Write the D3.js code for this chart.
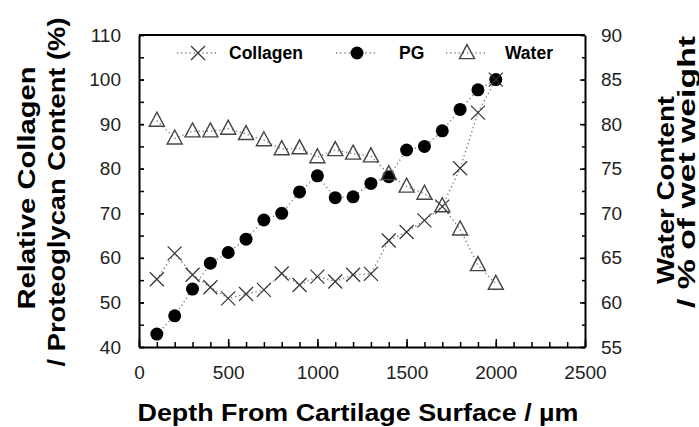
<!DOCTYPE html>
<html><head><meta charset="utf-8">
<script src="https://cdn.jsdelivr.net/npm/d3@7"></script>
<style>
body{margin:0;background:#fff;}
svg{display:block;font-family:"Liberation Sans",Arial,sans-serif;}
</style></head>
<body><svg id="c" width="699" height="427"></svg>
<script>
const depth = [100,200,300,400,500,600,700,800,900,1000,1100,1200,1300,1400,1500,1600,1700,1800,1900,2000];
const collagen = [55.2,61.0,56.2,53.4,50.9,51.9,52.8,56.5,53.9,55.8,54.7,56.2,56.4,63.9,65.8,68.4,71.5,80.1,92.6,100];
const pg = [42.9,47.0,53.0,58.8,61.2,64.2,68.5,70.0,74.8,78.4,73.5,73.7,76.7,78.2,84.2,85.0,88.5,93.3,97.7,100];
const water = [80.4,78.4,79.2,79.2,79.5,78.9,78.2,77.2,77.3,76.3,77.1,76.7,76.4,74.4,73.0,72.2,70.8,68.2,64.2,62.1];
const xTicks = [0,500,1000,1500,2000,2500];
const yLeftTicks = [40,50,60,70,80,90,100,110];
const yRightTicks = [55,60,65,70,75,80,85,90];
const legendNames = ["Collagen","PG","Water"];

const svg = d3.select("#c");
const L=139, R=585, T=35, B=347;
const x = d3.scaleLinear().domain([0,2500]).range([L,R]);
const yL = d3.scaleLinear().domain([40,110]).range([B,T]);
const yR = d3.scaleLinear().domain([55,90]).range([B,T]);
const fmt = d3.format("d");

function styleAxis(g, fs){
  g.select(".domain").attr("stroke","#000").attr("stroke-width",2);
  g.selectAll(".tick line").attr("stroke","#000").attr("stroke-width",1.5);
  g.selectAll(".tick text").attr("font-size",fs).attr("fill","#222");
}
function minorStyle(g){ g.select(".domain").remove(); g.selectAll("line").attr("stroke","#000").attr("stroke-width",1.5); }
// minor ticks
svg.append("g").attr("transform",`translate(0,${B})`)
  .call(d3.axisBottom(x).tickValues(d3.range(0,2501,100)).tickSize(-5).tickFormat("")).call(minorStyle);
svg.append("g").attr("transform",`translate(${L},0)`)
  .call(d3.axisLeft(yL).tickValues(d3.range(40,111,5)).tickSize(-5).tickFormat("")).call(minorStyle);
svg.append("g").attr("transform",`translate(${R},0)`)
  .call(d3.axisRight(yR).tickValues(d3.range(55,90.1,2.5)).tickSize(-3).tickFormat("")).call(minorStyle);
// major
svg.append("g").attr("transform",`translate(0,${B})`)
  .call(d3.axisBottom(x).tickValues(xTicks).tickFormat(fmt).tickSizeInner(-8).tickSizeOuter(0).tickPadding(19))
  .call(g=>styleAxis(g,19));
svg.append("g").attr("transform",`translate(${L},0)`)
  .call(d3.axisLeft(yL).tickValues(yLeftTicks).tickFormat(fmt).tickSizeInner(-5).tickSizeOuter(0).tickPadding(18))
  .call(g=>styleAxis(g,19));
svg.append("g").attr("transform",`translate(${R},0)`)
  .call(d3.axisRight(yR).tickValues(yRightTicks).tickFormat(fmt).tickSizeInner(-5).tickSizeOuter(0).tickPadding(16))
  .call(g=>styleAxis(g,19));
svg.append("line").attr("x1",L).attr("x2",R).attr("y1",T).attr("y2",T).attr("stroke","#000").attr("stroke-width",2);

// titles
function title(tr, txt, len, anchorX){
  svg.append("text").attr("transform",tr).attr("text-anchor","middle")
    .attr("font-size",23).attr("font-weight","bold")
    .attr("textLength",len).attr("lengthAdjust","spacingAndGlyphs").text(txt);
}
title("translate(358,421)","Depth From Cartilage Surface / µm",441);
title("translate(35,188) rotate(-90)","Relative Collagen",243);
title("translate(65,192) rotate(-90)","/ Proteoglycan Content (%)",349);
title("translate(674,190) rotate(-90)","Water Content",188);
title("translate(695,172) rotate(-90)","/ % of wet weight",272);

const lineStyle = s => s.attr("fill","none").attr("stroke","#777").attr("stroke-width",1.4).attr("stroke-dasharray","1.2,3");
function series(vals, yScale){
  return depth.map((d,i)=>[x(d), yScale(vals[i])]);
}
const dataC = series(collagen,yL), dataP = series(pg,yL), dataW = series(water,yR);
svg.append("path").attr("d",d3.line()(dataP)).call(lineStyle);
svg.append("path").attr("d",d3.line()(dataC)).call(lineStyle);
svg.append("path").attr("d",d3.line()(dataW)).call(lineStyle);

function drawCircle(g,p){ g.append("circle").attr("cx",p[0]).attr("cy",p[1]).attr("r",6.5).attr("fill","#000"); }
function drawX(g,p){ const s=7; g.append("path").attr("d",`M${p[0]-s},${p[1]-s}L${p[0]+s},${p[1]+s}M${p[0]-s},${p[1]+s}L${p[0]+s},${p[1]-s}`).attr("stroke","#333").attr("stroke-width",1.2).attr("fill","none"); }
function drawTri(g,p){ const w=7.5,h=14; g.append("path").attr("d",`M${p[0]},${p[1]-h*0.6}L${p[0]+w},${p[1]+h*0.4}L${p[0]-w},${p[1]+h*0.4}Z`).attr("stroke","#444").attr("stroke-width",1.4).attr("fill","none"); }

const gm = svg.append("g");
dataP.forEach(p=>drawCircle(gm,p));
dataC.forEach(p=>drawX(gm,p));
dataW.forEach(p=>drawTri(gm,p));

// legend
const legX = [198,357,467], legTX=[229,399,505], legY=53;
const drawers=[drawX,drawCircle,drawTri];
legendNames.forEach((n,i)=>{
  svg.append("line").attr("x1",legX[i]-21).attr("x2",legX[i]+21).attr("y1",legY).attr("y2",legY).call(lineStyle);
  drawers[i](svg,[legX[i],legY]);
  svg.append("text").attr("x",legTX[i]).attr("y",legY).attr("dy","0.36em").attr("font-size",17.5).attr("font-weight","bold").text(n);
});
</script></body></html>
